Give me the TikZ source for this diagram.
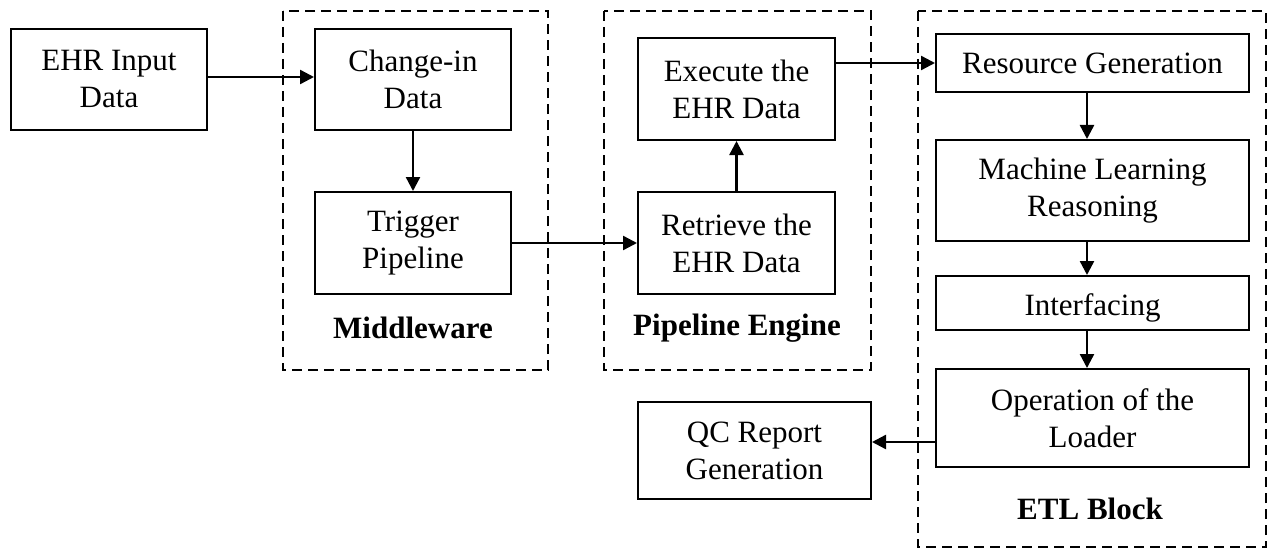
\documentclass[tikz,border=0pt]{standalone}
\usepackage{fontspec}
\setmainfont{Liberation Serif}
\usetikzlibrary{arrows.meta}
\tikzset{
  box/.style={draw=black, line width=1pt, align=center, inner sep=0pt,
    font=\fontsize{15.5}{18.5}\selectfont},
  grp/.style={draw=black, line width=1pt, dash pattern=on 5pt off 3pt},
  grplabel/.style={font=\fontsize{15.5}{18.5}\selectfont\bfseries, inner sep=0pt},
  arr/.style={line width=1.2pt, -{Triangle[length=7pt,width=7pt]}},
}
\begin{document}
\begin{tikzpicture}[x=0.5pt,y=-0.5pt]
\useasboundingbox (0,0) rectangle (1268,551);
% groups
\draw[grp] (283,11) rectangle (548,370);
\draw[grp] (604,11) rectangle (871,370);
\draw[grp] (918,11) rectangle (1266,547);
\node[grplabel] (lmid) at (413,328) {Middleware};
\node[grplabel] (lpipe) at (737,328) {Pipeline Engine};
\node[grplabel] (letl) at (1090,509) {ETL Block};
% boxes
\node[box, minimum width=98pt, minimum height=50.5pt] (ehr) at (109,79.5) {EHR Input\\Data};
\node[box, minimum width=98pt, minimum height=50.5pt] (chg) at (413,79.5) {Change-in\\Data};
\node[box, minimum width=98pt, minimum height=51pt] (trg) at (413,243) {Trigger\\Pipeline};
\node[box, minimum width=98.5pt, minimum height=51pt] (exe) at (736.5,89) {Execute the\\EHR Data};
\node[box, minimum width=98.5pt, minimum height=51pt] (ret) at (736.5,243) {Retrieve the\\EHR Data};
\node[box, minimum width=156.5pt, minimum height=29pt] (res) at (1092.5,63) {Resource Generation};
\node[box, minimum width=156.5pt, minimum height=50.5pt] (ml) at (1092.5,190.5) {Machine Learning\\Reasoning};
\node[box, minimum width=156.5pt, minimum height=27pt, text depth=0pt] (itf) at (1092.5,303) {\raisebox{-2pt}{Interfacing}};
\node[box, minimum width=156.5pt, minimum height=49pt] (op) at (1092.5,418) {Operation of the\\Loader};
\node[box, minimum width=116.5pt, minimum height=48.5pt] (qc) at (754.5,450.5) {QC Report\\Generation};
% connectors
\draw[arr] (ehr.east |- 0,77) -- (chg.west |- 0,77);
\draw[arr] (chg.south) -- (trg.north);
\draw[arr] (trg.east) -- (ret.west);
\draw[arr] (ret.north) -- (exe.south);
\draw[arr] (res.west -| exe.east) -- (res.west);
\draw[arr] ([xshift=-2.75pt]res.south) -- ([xshift=-2.75pt]ml.north);
\draw[arr] ([xshift=-2.75pt]ml.south) -- ([xshift=-2.75pt]itf.north);
\draw[arr] ([xshift=-2.75pt]itf.south) -- ([xshift=-2.75pt]op.north);
\draw[arr] (op.west |- 0,442) -- (qc.east |- 0,442);
\end{tikzpicture}
\end{document}
